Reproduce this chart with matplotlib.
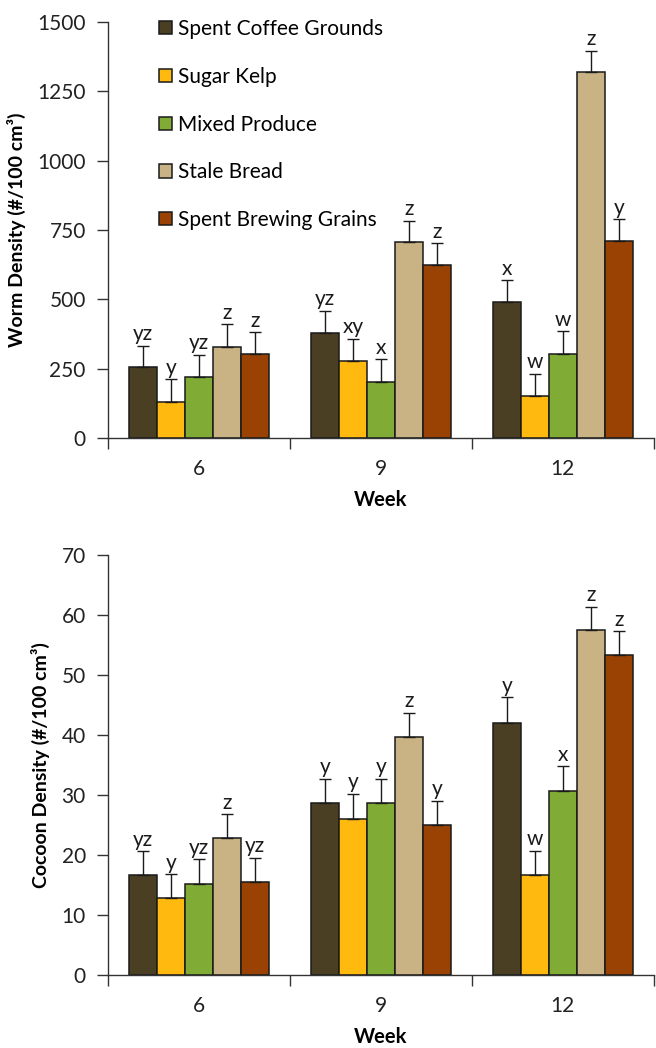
import numpy as np
import matplotlib
matplotlib.use("Agg")
import matplotlib.pyplot as plt

plt.rcParams['font.family'] = ['Lato', 'DejaVu Sans']

weeks = ["6", "9", "12"]
feeds = ["Spent Coffee Grounds", "Sugar Kelp", "Mixed Produce", "Stale Bread", "Spent Brewing Grains"]
colors = ["#4b3f23", "#ffb90f", "#80ac36", "#c9b283", "#9a4204"]

# worm density per feed, weeks 6/9/12
worm_mean = {
    "Spent Coffee Grounds": [255, 380, 490],
    "Sugar Kelp": [131, 279, 153],
    "Mixed Produce": [219, 203, 302],
    "Stale Bread": [329, 707, 1321],
    "Spent Brewing Grains": [302, 624, 712],
}
worm_err = {
    "Spent Coffee Grounds": [78, 79, 79],
    "Sugar Kelp": [81, 78, 78],
    "Mixed Produce": [81, 81, 83],
    "Stale Bread": [81, 76, 76],
    "Spent Brewing Grains": [79, 78, 77],
}
worm_letters = {
    "Spent Coffee Grounds": ["yz", "yz", "x"],
    "Sugar Kelp": ["y", "xy", "w"],
    "Mixed Produce": ["yz", "x", "w"],
    "Stale Bread": ["z", "z", "z"],
    "Spent Brewing Grains": ["z", "z", "y"],
}

# cocoon density per feed
cocoon_mean = {
    "Spent Coffee Grounds": [16.6, 28.7, 42.0],
    "Sugar Kelp": [12.8, 26.0, 16.6],
    "Mixed Produce": [15.1, 28.7, 30.7],
    "Stale Bread": [22.8, 39.7, 57.5],
    "Spent Brewing Grains": [15.5, 25.0, 53.3],
}
cocoon_err = {
    "Spent Coffee Grounds": [4.0, 4.0, 4.3],
    "Sugar Kelp": [4.0, 4.2, 4.1],
    "Mixed Produce": [4.2, 4.0, 4.1],
    "Stale Bread": [4.0, 4.0, 3.9],
    "Spent Brewing Grains": [4.0, 4.0, 4.0],
}
cocoon_letters = {
    "Spent Coffee Grounds": ["yz", "y", "y"],
    "Sugar Kelp": ["y", "y", "w"],
    "Mixed Produce": ["yz", "y", "x"],
    "Stale Bread": ["z", "z", "z"],
    "Spent Brewing Grains": ["yz", "y", "z"],
}

fig = plt.figure(figsize=(6.56, 10.48), dpi=100)
ax1 = fig.add_axes([0.1646, 0.582, 0.832, 0.397])
ax2 = fig.add_axes([0.1646, 0.0697, 0.832, 0.4007])

width = 0.154
x = np.arange(len(weeks))


def draw(ax, means, errs, letters, ymax, step, ylabel, legend=False):
    for i, f in enumerate(feeds):
        pos = x + (i - 2) * width
        ax.bar(pos, means[f], width, color=colors[i], edgecolor="#1a1a1a",
               linewidth=1.1, label=f, zorder=2)
        ax.errorbar(pos, means[f], yerr=[np.zeros(3), errs[f]], fmt="none",
                    ecolor="#1a1a1a", elinewidth=1, capsize=4.5, capthick=1, zorder=3)
        for p, m, e, t in zip(pos, means[f], errs[f], letters[f]):
            ax.annotate(t, (p, m + e), xytext=(0, 4), textcoords="offset points",
                        ha="center", va="baseline", fontsize=15, color="#1a1a1a")
    ax.set_xlim(-0.5, 2.5)
    ax.set_ylim(0, ymax)
    ax.set_yticks(np.arange(0, ymax + 1, step))
    ax.set_xticks([-0.5, 0.5, 1.5, 2.5])
    ax.set_xticklabels([])
    ax.set_xticks(x, minor=True)
    ax.set_xticklabels(weeks, minor=True)
    ax.tick_params(axis="x", which="major", length=8, width=1, color="#333333")
    ax.tick_params(axis="x", which="minor", length=0, pad=15, labelsize=15,
                   labelcolor="#222222")
    ax.tick_params(axis="y", length=8, width=1, pad=8, labelsize=15,
                   color="#333333", labelcolor="#222222")
    for s in ["top", "right"]:
        ax.spines[s].set_visible(False)
    for s in ["left", "bottom"]:
        ax.spines[s].set_color("#333333")
        ax.spines[s].set_linewidth(1)
    ax.set_xlabel("Week", fontsize=14.5, fontweight="bold", labelpad=8)
    ax.set_ylabel(ylabel, fontsize=14, fontweight="bold", labelpad=8)
    if legend:
        ax.legend(loc="upper left", bbox_to_anchor=(0.06, 1.052), frameon=False,
                  fontsize=15, handlelength=0.6, handleheight=0.6,
                  handletextpad=0.28, labelspacing=1.33)


draw(ax1, worm_mean, worm_err, worm_letters, 1500, 250,
     "Worm Density (#/100 cm³)", legend=True)
draw(ax2, cocoon_mean, cocoon_err, cocoon_letters, 70, 10,
     "Cocoon Density (#/100 cm³)")

fig.savefig("out.png", dpi=100)
